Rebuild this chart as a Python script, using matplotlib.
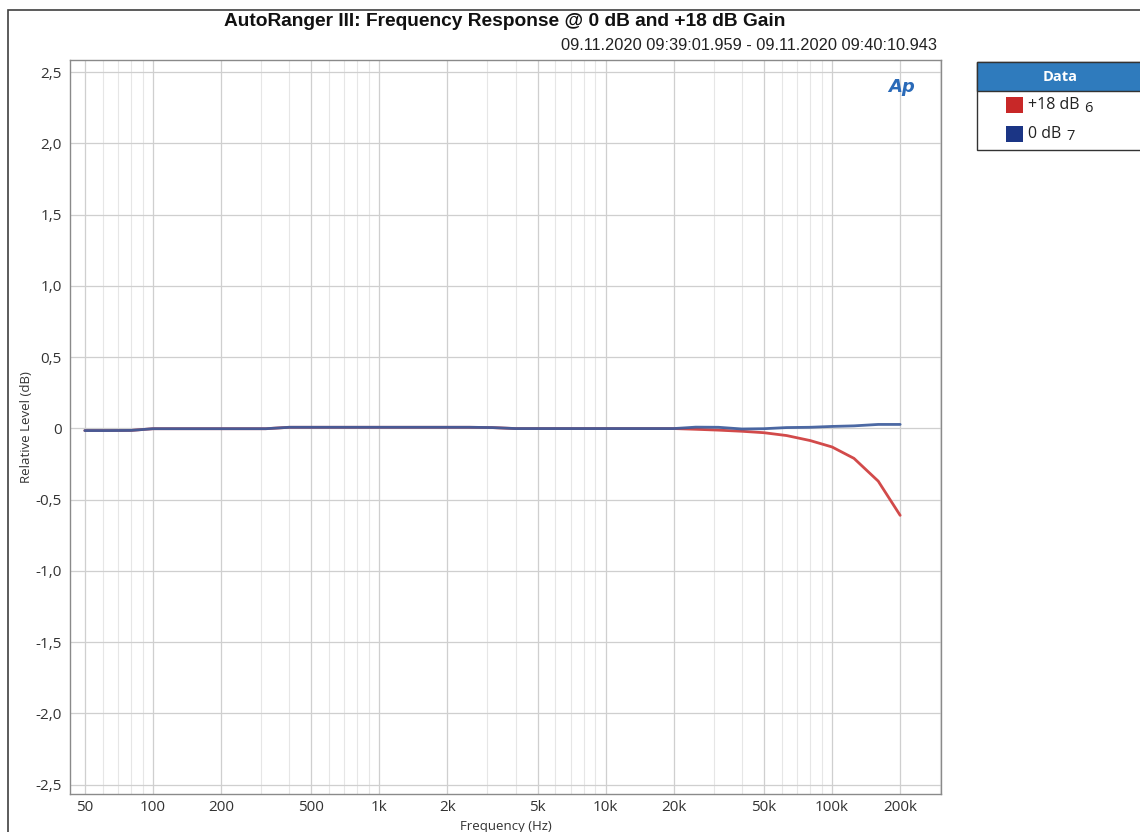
import matplotlib
matplotlib.use("Agg")
import matplotlib.pyplot as plt
from matplotlib.patches import Rectangle
from matplotlib.ticker import FixedLocator, NullFormatter
import numpy as np

# ---- data ----
freqs = [50, 63, 80, 100, 125, 160, 200, 250, 315, 400, 500, 630, 800, 1000,
         1250, 1600, 2000, 2500, 3150, 4000, 5000, 6300, 8000, 10000, 12500,
         16000, 20000, 25000, 31500, 40000, 50000, 63000, 80000, 100000,
         125000, 160000, 200000]
gain18 = [-0.015, -0.015, -0.014, -0.002, -0.002, -0.002, -0.002, -0.002, -0.002,
          0.008, 0.008, 0.008, 0.008, 0.008, 0.008, 0.008, 0.008, 0.008, 0.006,
          -0.001, -0.001, -0.001, -0.001, -0.001, -0.001, -0.001, -0.001,
          -0.006, -0.012, -0.020, -0.030, -0.050, -0.085, -0.130, -0.210,
          -0.370, -0.610]
gain0 = [-0.015, -0.015, -0.014, -0.002, -0.002, -0.002, -0.002, -0.002, -0.002,
         0.008, 0.008, 0.008, 0.008, 0.008, 0.008, 0.008, 0.008, 0.008, 0.006,
         -0.001, -0.001, -0.001, -0.001, -0.001, -0.001, -0.001, -0.001,
         0.009, 0.008, -0.004, -0.002, 0.006, 0.008, 0.014, 0.018,
         0.028, 0.028]

xtick_vals = [50, 100, 200, 500, 1000, 2000, 5000, 10000, 20000, 50000, 100000, 200000]
xtick_labels = ["50", "100", "200", "500", "1k", "2k", "5k", "10k", "20k", "50k", "100k", "200k"]
ytick_vals = [2.5, 2.0, 1.5, 1.0, 0.5, 0.0, -0.5, -1.0, -1.5, -2.0, -2.5]
ytick_labels = ["2,5", "2,0", "1,5", "1,0", "0,5", "0", "-0,5", "-1,0", "-1,5", "-2,0", "-2,5"]
legend_names = ["+18 dB", "0 dB"]
legend_nums = ["6", "7"]

title = "AutoRanger III: Frequency Response @ 0 dB and +18 dB Gain"
subtitle = "09.11.2020 09:39:01.959 - 09.11.2020 09:40:10.943"

# ---- figure ----
W, H = 1140, 832
fig = plt.figure(figsize=(W / 100, H / 100), dpi=100)
fig.patch.set_facecolor("white")

def fx(px):
    return px / W

def fy(py):
    return 1 - py / H

# outer frame
fig.add_artist(Rectangle((fx(8), fy(845)), fx(1150) - fx(8), fy(10) - fy(845),
                         transform=fig.transFigure, fill=False,
                         edgecolor="#404040", linewidth=1.2))

ax_l, ax_r, ax_t, ax_b = 70, 941, 60, 794
ax = fig.add_axes([fx(ax_l), fy(ax_b), fx(ax_r) - fx(ax_l), fy(ax_t) - fy(ax_b)])
ax.set_xscale("log")
ax.set_xlim(43, 303000)
ax.set_ylim(-2.565, 2.585)

tick_font = ["Open Sans", "DejaVu Sans"]
ax.xaxis.set_major_locator(FixedLocator(xtick_vals))
ax.set_xticklabels(xtick_labels, family=tick_font, fontsize=11, color="#333333")
minor = []
for dec in [10, 100, 1000, 10000, 100000]:
    for m in range(1, 10):
        v = m * dec
        if 43 < v < 303000 and v not in xtick_vals:
            minor.append(v)
ax.xaxis.set_minor_locator(FixedLocator(minor))
ax.xaxis.set_minor_formatter(NullFormatter())
ax.yaxis.set_major_locator(FixedLocator(ytick_vals))
ax.set_yticklabels(ytick_labels, family=tick_font, fontsize=11, color="#333333")
ax.tick_params(which="both", length=0, pad=6)
ax.tick_params(axis="x", pad=4)

ax.grid(which="major", axis="both", color="#cfcfcf", linewidth=0.9)
ax.grid(which="minor", axis="x", color="#e6e6e6", linewidth=0.8)
ax.set_axisbelow(True)
for s in ax.spines.values():
    s.set_color("#8a8a8a")
    s.set_linewidth(1.0)

ax.plot(freqs, gain18, color="#d24a4a", linewidth=2.0, solid_capstyle="round")
ax.plot(freqs, gain0, color="#3d5c9c", linewidth=2.0, alpha=0.92, solid_capstyle="round")

ax.set_ylabel("Relative Level (dB)", family=tick_font, fontsize=9.5, color="#333333", labelpad=2)
ax.set_xlabel("Frequency (Hz)", family=tick_font, fontsize=9.5, color="#333333", labelpad=4)

# AP logo
ax.text(0.955, 0.975, "Ap", transform=ax.transAxes, ha="center", va="top",
        fontsize=13, fontweight="bold", fontstyle="italic", color="#2a6ab8",
        family=["DejaVu Sans"])

# titles
fig.text(fx(505), fy(21), title, ha="center", va="center",
         family=["Liberation Sans", "DejaVu Sans"],
         fontsize=13.8, fontweight="bold", color="#111111")
fig.text(fx(937), fy(45), subtitle, ha="right", va="center",
         family=["Liberation Sans", "DejaVu Sans"],
         fontsize=11.8, color="#222222")

# legend box
lx0, lx1, ly0, ly1, lh = 977, 1145, 62, 150, 91
fig.add_artist(Rectangle((fx(lx0), fy(ly1)), fx(lx1) - fx(lx0), fy(ly0) - fy(ly1),
                         transform=fig.transFigure, facecolor="white",
                         edgecolor="#333333", linewidth=1.0))
fig.add_artist(Rectangle((fx(lx0), fy(lh)), fx(lx1) - fx(lx0), fy(ly0) - fy(lh),
                         transform=fig.transFigure, facecolor="#2f7bbd",
                         edgecolor="#333333", linewidth=1.0))
fig.text(fx(1060), fy(77), "Data", ha="center", va="center", color="white",
         family=tick_font, fontsize=10.5, fontweight="bold")
sq_colors = ["#c82828", "#1b3585"]
ys = [105, 134]
for name, num, c, y in zip(legend_names, legend_nums, sq_colors, ys):
    fig.add_artist(Rectangle((fx(1006), fy(y + 8)), fx(1023) - fx(1006), fy(y - 8) - fy(y + 8),
                             transform=fig.transFigure, facecolor=c, edgecolor="none"))
    t = fig.text(fx(1028), fy(y), name, ha="left", va="center", color="#222222",
                 family=tick_font, fontsize=11.5)
    fig.canvas.draw()
    bb = t.get_window_extent()
    fig.text(bb.x1 / W + fx(5), fy(y + 3), num, ha="left", va="center", color="#222222",
             family=tick_font, fontsize=10.5)

fig.savefig("out.png", dpi=100, facecolor="white")
